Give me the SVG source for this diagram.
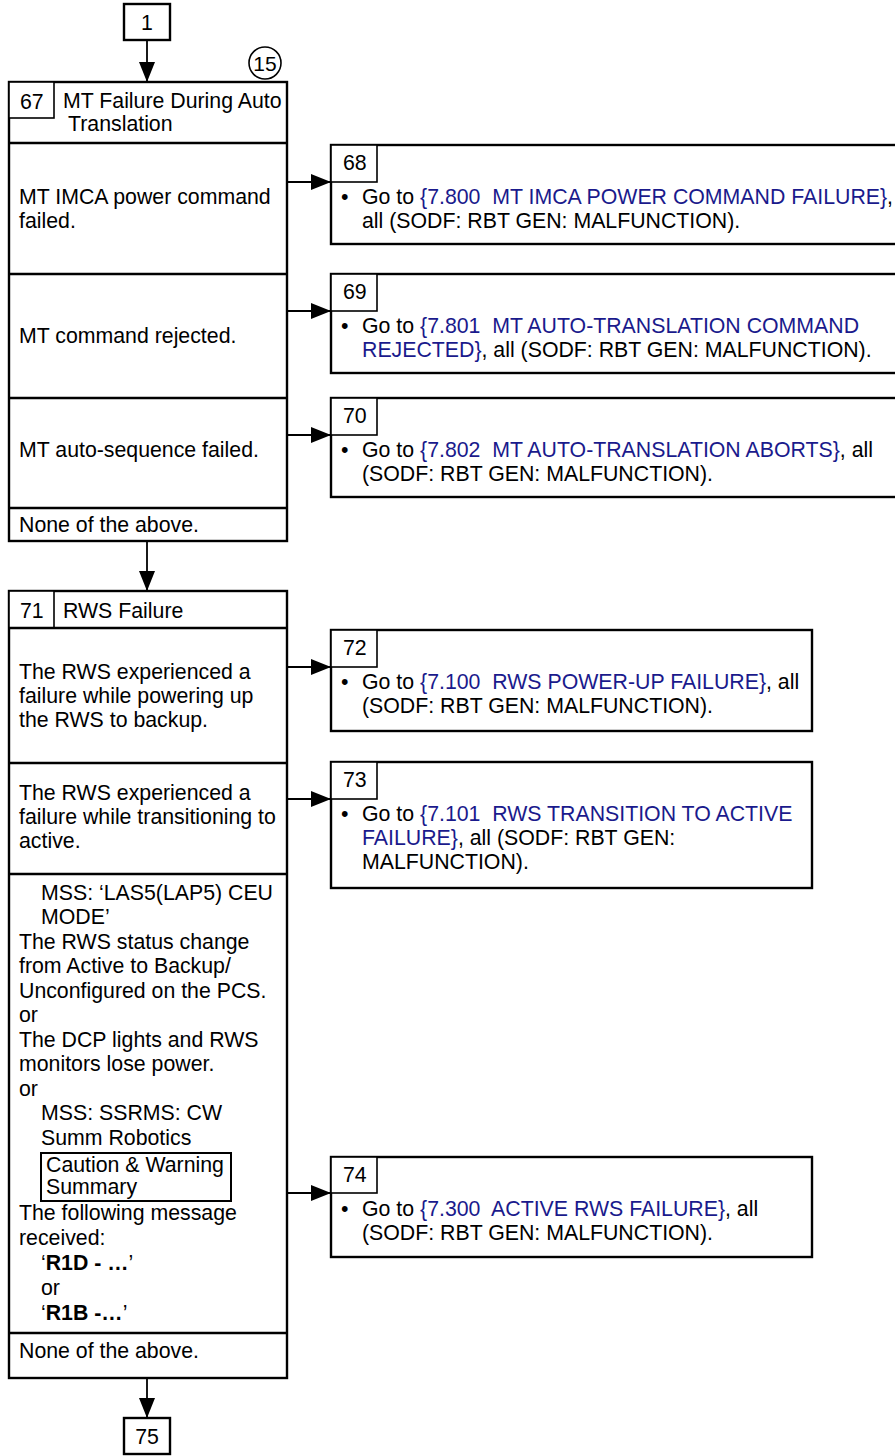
<svg xmlns="http://www.w3.org/2000/svg" width="895" height="1456" viewBox="0 0 895 1456">
<style>
text{font-family:"Liberation Sans",Arial,sans-serif;font-size:21.3px;fill:#000;}
.box{fill:#fff;stroke:#000;stroke-width:2.4;}
.div{stroke:#000;stroke-width:2.4;fill:none;}
.nb{fill:#fff;stroke:#000;stroke-width:1.6;}
.con{stroke:#000;stroke-width:1.8;fill:none;marker-end:url(#ah);}
.lk{fill:#1a1a8c;}
.b{font-weight:bold;}
.c{text-anchor:middle;}
</style>
<defs>
<marker id="ah" markerUnits="userSpaceOnUse" markerWidth="20" markerHeight="16" refX="20" refY="8" orient="auto">
<path d="M0,0 L20,8 L0,16 z" fill="#000"/>
</marker>
</defs>
<rect width="895" height="1456" fill="#fff"/>

<g id="connectors">
<line class="con" x1="147" y1="40" x2="147" y2="82"/>
<line class="con" x1="147" y1="541" x2="147" y2="591"/>
<line class="con" x1="147" y1="1378" x2="147" y2="1418"/>
<line class="con" x1="287" y1="182" x2="331" y2="182"/>
<line class="con" x1="287" y1="311" x2="331" y2="311"/>
<line class="con" x1="287" y1="435" x2="331" y2="435"/>
<line class="con" x1="287" y1="667" x2="331" y2="667"/>
<line class="con" x1="287" y1="799" x2="331" y2="799"/>
<line class="con" x1="287" y1="1193" x2="331" y2="1193"/>
</g>

<g id="n1">
<rect class="box" x="124" y="4" width="46" height="36"/>
<text class="c" x="147" y="30">1</text>
</g>

<g id="n15">
<circle cx="265" cy="63" r="16" fill="#fff" stroke="#000" stroke-width="1.6"/>
<text class="c" x="265" y="71" style="font-size:21px">15</text>
</g>

<g id="n67">
<rect class="box" x="9" y="82" width="278" height="459"/>
<rect class="nb" x="9" y="82" width="45" height="36"/>
<text x="20" y="109">67</text>
<text x="63" y="108">MT Failure During Auto</text>
<text x="68" y="131">Translation</text>
<line class="div" x1="9" y1="143" x2="287" y2="143"/>
<line class="div" x1="9" y1="274" x2="287" y2="274"/>
<line class="div" x1="9" y1="398" x2="287" y2="398"/>
<line class="div" x1="9" y1="508" x2="287" y2="508"/>
<text x="19" y="204">MT IMCA power command</text>
<text x="19" y="228">failed.</text>
<text x="19" y="343">MT command rejected.</text>
<text x="19" y="457">MT auto-sequence failed.</text>
<text x="19" y="532">None of the above.</text>
</g>

<g id="n68">
<rect class="box" x="331" y="145" width="580" height="99"/>
<rect class="nb" x="331" y="145" width="46" height="37"/>
<text x="343" y="170">68</text>
<text x="341" y="204">•</text>
<text x="362" y="204" xml:space="preserve">Go to <tspan class="lk">{7.800  MT IMCA POWER COMMAND FAILURE}</tspan>,</text>
<text x="362" y="228">all (SODF: RBT GEN: MALFUNCTION).</text>
</g>

<g id="n69">
<rect class="box" x="331" y="274" width="580" height="99"/>
<rect class="nb" x="331" y="274" width="46" height="37"/>
<text x="343" y="299">69</text>
<text x="341" y="333">•</text>
<text x="362" y="333" xml:space="preserve">Go to <tspan class="lk">{7.801  MT AUTO-TRANSLATION COMMAND</tspan></text>
<text x="362" y="357"><tspan class="lk">REJECTED}</tspan>, all (SODF: RBT GEN: MALFUNCTION).</text>
</g>

<g id="n70">
<rect class="box" x="331" y="398" width="580" height="99"/>
<rect class="nb" x="331" y="398" width="46" height="37"/>
<text x="343" y="423">70</text>
<text x="341" y="457">•</text>
<text x="362" y="457" xml:space="preserve">Go to <tspan class="lk">{7.802  MT AUTO-TRANSLATION ABORTS}</tspan>, all</text>
<text x="362" y="481">(SODF: RBT GEN: MALFUNCTION).</text>
</g>

<g id="n71">
<rect class="box" x="9" y="591" width="278" height="787"/>
<rect class="nb" x="9" y="591" width="45" height="37"/>
<text x="20" y="618">71</text>
<text x="63" y="618">RWS Failure</text>
<line class="div" x1="9" y1="628" x2="287" y2="628"/>
<line class="div" x1="9" y1="763" x2="287" y2="763"/>
<line class="div" x1="9" y1="874" x2="287" y2="874"/>
<line class="div" x1="9" y1="1333" x2="287" y2="1333"/>
<text x="19" y="679">The RWS experienced a</text>
<text x="19" y="703">failure while powering up</text>
<text x="19" y="727">the RWS to backup.</text>
<text x="19" y="800">The RWS experienced a</text>
<text x="19" y="824">failure while transitioning to</text>
<text x="19" y="848">active.</text>
<text x="41" y="900">MSS: ‘LAS5(LAP5) CEU</text>
<text x="41" y="924">MODE’</text>
<text x="19" y="949">The RWS status change</text>
<text x="19" y="973">from Active to Backup/</text>
<text x="19" y="998">Unconfigured on the PCS.</text>
<text x="19" y="1022">or</text>
<text x="19" y="1047">The DCP lights and RWS</text>
<text x="19" y="1071">monitors lose power.</text>
<text x="19" y="1096">or</text>
<text x="41" y="1120">MSS: SSRMS: CW</text>
<text x="41" y="1145">Summ Robotics</text>
<rect x="41" y="1153" width="190" height="48" fill="none" stroke="#000" stroke-width="2"/>
<text x="46" y="1172">Caution &amp; Warning</text>
<text x="46" y="1194">Summary</text>
<text x="19" y="1220">The following message</text>
<text x="19" y="1245">received:</text>
<text x="41" y="1270">‘<tspan class="b">R1D - …</tspan>’</text>
<text x="41" y="1295">or</text>
<text x="41" y="1320">‘<tspan class="b">R1B -…</tspan>’</text>
<text x="19" y="1358">None of the above.</text>
</g>

<g id="n72">
<rect class="box" x="331" y="630" width="481" height="101"/>
<rect class="nb" x="331" y="630" width="46" height="37"/>
<text x="343" y="655">72</text>
<text x="341" y="689">•</text>
<text x="362" y="689" xml:space="preserve">Go to <tspan class="lk">{7.100  RWS POWER-UP FAILURE}</tspan>, all</text>
<text x="362" y="713">(SODF: RBT GEN: MALFUNCTION).</text>
</g>

<g id="n73">
<rect class="box" x="331" y="762" width="481" height="126"/>
<rect class="nb" x="331" y="762" width="46" height="37"/>
<text x="343" y="787">73</text>
<text x="341" y="821">•</text>
<text x="362" y="821" xml:space="preserve">Go to <tspan class="lk">{7.101  RWS TRANSITION TO ACTIVE</tspan></text>
<text x="362" y="845"><tspan class="lk">FAILURE}</tspan>, all (SODF: RBT GEN:</text>
<text x="362" y="869">MALFUNCTION).</text>
</g>

<g id="n74">
<rect class="box" x="331" y="1157" width="481" height="100"/>
<rect class="nb" x="331" y="1157" width="46" height="36"/>
<text x="343" y="1182">74</text>
<text x="341" y="1216">•</text>
<text x="362" y="1216" xml:space="preserve">Go to <tspan class="lk">{7.300  ACTIVE RWS FAILURE}</tspan>, all</text>
<text x="362" y="1240">(SODF: RBT GEN: MALFUNCTION).</text>
</g>

<g id="n75">
<rect class="box" x="124" y="1418" width="46" height="36"/>
<text class="c" x="147" y="1444">75</text>
</g>
</svg>
